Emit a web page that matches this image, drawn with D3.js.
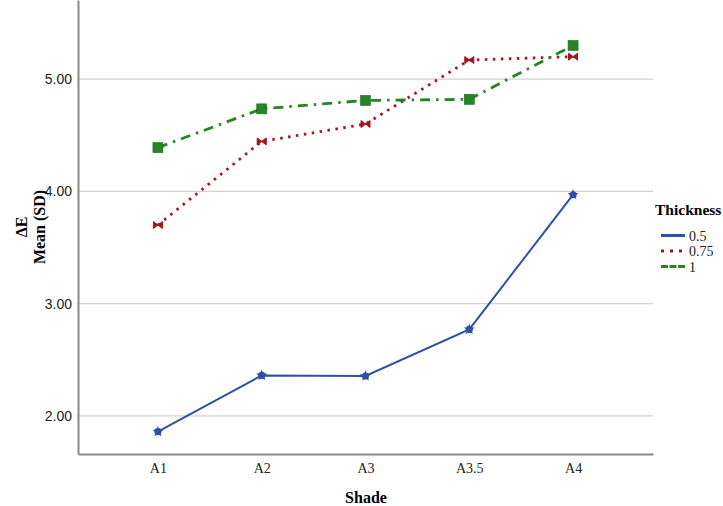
<!DOCTYPE html>
<html><head><meta charset="utf-8">
<script src="https://cdn.jsdelivr.net/npm/d3@7"></script>
<style>body{margin:0;background:#fff}svg{display:block}</style>
</head><body>
<svg id="c" width="723" height="506"></svg>
<script>
const categories = ["A1","A2","A3","A3.5","A4"];
const seriesNames = ["0.5","0.75","1"];
const vals05 = [1.86, 2.36, 2.355, 2.77, 3.97];
const vals075 = [3.70, 4.445, 4.60, 5.17, 5.20];
const vals1 = [4.39, 4.735, 4.81, 4.82, 5.30];
const yTicks = [2, 3, 4, 5];

const svg = d3.select("#c");
const L = 78, R = 653, T = 0, B = 454;
const x = d3.scalePoint().domain(categories).range([L, R]).padding(0.77);
const y = d3.scaleLinear().domain([1.66, 5.705]).range([B, T]);

// gridlines
svg.append("g").selectAll("line").data(yTicks).join("line")
  .attr("x1", L).attr("x2", R).attr("y1", d => y(d)).attr("y2", d => y(d))
  .attr("stroke", "#d2d2d2").attr("stroke-width", 1.3);

// y axis
const ya = svg.append("g").attr("transform", `translate(${L},0)`)
  .call(d3.axisLeft(y).tickValues(yTicks).tickFormat(d3.format(".2f")).tickSize(0).tickPadding(6));
ya.select(".domain").attr("stroke", "#8a8a8a").attr("stroke-width", 2);
ya.selectAll("text").attr("font-family", "Liberation Sans, Arial, sans-serif").attr("font-size", 14).attr("fill", "#222");

// x axis
const xa = svg.append("g").attr("transform", `translate(0,${B})`)
  .call(d3.axisBottom(x).tickSize(0).tickPadding(9));
xa.select(".domain").attr("stroke", "#8a8a8a").attr("stroke-width", 2);
xa.selectAll("text").attr("font-family", "Liberation Serif, Times New Roman, serif").attr("font-size", 14).attr("fill", "#222");

const series = [
  {name: seriesNames[0], values: vals05, color: "#3050a8", dash: null, marker: "star"},
  {name: seriesNames[1], values: vals075, color: "#a5161c", dash: "2.5,5.5", marker: "bowtie"},
  {name: seriesNames[2], values: vals1, color: "#238523", dash: "10,6,2.5,6", marker: "square"}
];

const line = d3.line().x((d, i) => x(categories[i])).y(d => y(d));

series.forEach(s => {
  svg.append("path").attr("d", line(s.values)).attr("fill", "none")
    .attr("stroke", s.color).attr("stroke-width", s.marker === "star" ? 2 : 2.8)
    .attr("stroke-dasharray", s.dash);
  const g = svg.append("g");
  s.values.forEach((v, i) => {
    const cx = x(categories[i]), cy = y(v);
    if (s.marker === "square") {
      g.append("rect").attr("x", cx - 5).attr("y", cy - 5).attr("width", 10).attr("height", 10)
        .attr("fill", s.color).attr("stroke", "#1c6e1c").attr("stroke-width", 0.6);
    } else if (s.marker === "bowtie") {
      g.append("path").attr("d", `M${cx-4.5},${cy-3.5}L${cx},${cy}L${cx-4.5},${cy+3.5}Z M${cx+4.5},${cy-3.5}L${cx},${cy}L${cx+4.5},${cy+3.5}Z`)
        .attr("fill", s.color).attr("stroke", s.color).attr("stroke-width", 1);
      g.append("line").attr("x1", cx-4.5).attr("x2", cx+4.5).attr("y1", cy).attr("y2", cy).attr("stroke", s.color).attr("stroke-width", 1.5);
    } else {
      g.append("path").attr("d", d3.symbol(d3.symbolStar, 40)()).attr("transform", `translate(${cx},${cy})`)
        .attr("fill", s.color);
      g.append("circle").attr("cx", cx).attr("cy", cy).attr("r", 3.6).attr("fill", s.color);
    }
  });
});

// axis titles
svg.append("text").attr("x", 366).attr("y", 503).attr("text-anchor", "middle")
  .attr("font-family", "Liberation Serif, Times New Roman, serif").attr("font-weight", "bold").attr("font-size", 16).text("Shade");
const yt = svg.append("text").attr("transform", "translate(0,227) rotate(-90)").attr("text-anchor", "middle")
  .attr("font-family", "Liberation Serif, Times New Roman, serif").attr("font-weight", "bold").attr("font-size", 16);
yt.append("tspan").attr("x", 0).attr("y", 27).text("ΔE");
yt.append("tspan").attr("x", 0).attr("y", 45).text("Mean (SD)");

// legend
svg.append("text").attr("x", 655).attr("y", 215)
  .attr("font-family", "Liberation Serif, Times New Roman, serif").attr("font-weight", "bold").attr("font-size", 15.5).text("Thickness");
const ly = d3.scalePoint().domain(seriesNames).range([235.5, 266.5]);
series.forEach(s => {
  const yy = ly(s.name);
  svg.append("line").attr("x1", 661).attr("x2", 685).attr("y1", yy).attr("y2", yy)
    .attr("stroke", s.color).attr("stroke-width", 3)
    .attr("stroke-dasharray", s.marker === "bowtie" ? "3,6" : (s.marker === "square" ? "7,1.5" : null));
  svg.append("text").attr("x", 689).attr("y", yy + 5)
    .attr("font-family", "Liberation Serif, Times New Roman, serif").attr("font-size", 14).attr("fill", "#222").text(s.name);
});
</script>
</body></html>
